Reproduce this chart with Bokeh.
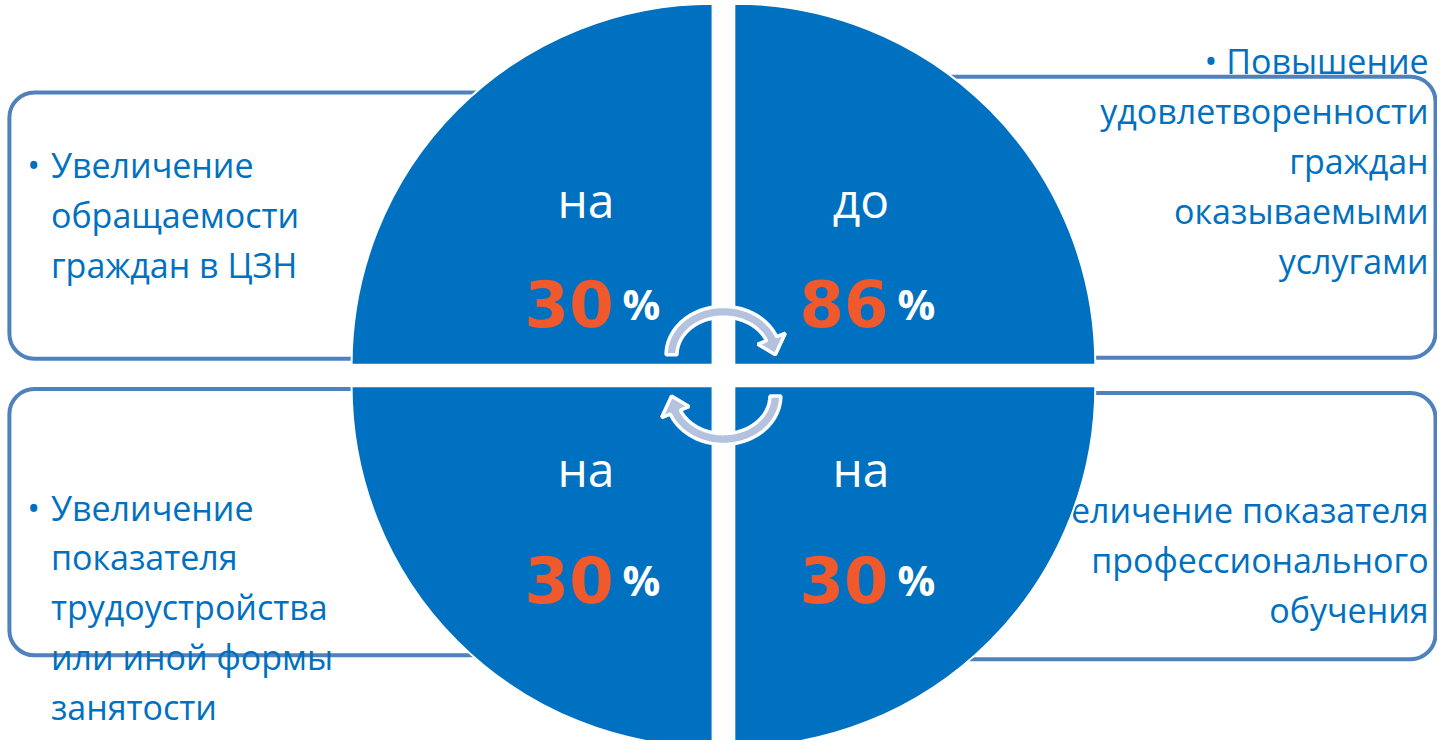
import numpy as np
from bokeh.plotting import figure
from bokeh.models import Range1d, BoxAnnotation
from bokeh.core.properties import value
from bokeh.embed import file_html
from bokeh.resources import INLINE

# ---------------- data ----------------
quadrant_names = ["top_left", "top_right", "bottom_left", "bottom_right"]
quadrant_prefix = ["на", "до", "на", "на"]
quadrant_value = ["30", "86", "30", "30"]
quadrant_unit = ["%", "%", "%", "%"]

desc_top_left = ["Увеличение", "обращаемости", "граждан в ЦЗН"]
desc_top_right = ["Повышение", "удовлетворенности", "граждан", "оказываемыми", "услугами"]
desc_bottom_left = ["Увеличение", "показателя", "трудоустройства", "или иной формы", "занятости"]
desc_bottom_right = ["Увеличение показателя", "профессионального", "обучения"]

# ---------------- styling / layout ----------------
W, H = 1453, 756
def Y(py):
    return H - py

BLUE = "#0070C0"
BOX_LINE = "#4F81BD"
ORANGE = "#F0592B"
ARROW_FILL = "#B4C2DE"
FONT = "Open Sans"
LINE_GAP = 51

p = figure(width=1437, height=740, x_range=Range1d(0, W), y_range=Range1d(0, H),
           output_backend="svg", toolbar_location=None, tools="", min_border=0)
p.axis.visible = False
p.grid.visible = False
p.outline_line_color = None
p.background_fill_color = "white"
p.border_fill_color = "white"

# rounded boxes (behind everything)
boxes = [
    (9, 600, 94, 366),      # top-left
    (870, 1451, 78, 365),   # top-right
    (9, 600, 397, 669),     # bottom-left
    (870, 1451, 401, 673),  # bottom-right
]
for l, r, t, b in boxes:
    p.add_layout(BoxAnnotation(left=l, right=r, top=Y(t), bottom=Y(b),
                               fill_color="white", fill_alpha=1.0,
                               line_color=BOX_LINE, line_width=4, line_alpha=1.0,
                               border_radius=25, level="underlay"))

# description texts
def left_block(lines, first_baseline):
    ys = [Y(first_baseline + i * LINE_GAP) for i in range(len(lines))]
    p.text(x=[51] * len(lines), y=ys, text=lines, text_font=value(FONT),
           text_font_size=value("34px"), text_color=BLUE, text_align="left",
           text_baseline="alphabetic")
    p.text(x=[27], y=[ys[0]], text=["•"], text_font=value(FONT),
           text_font_size=value("34px"), text_color=BLUE, text_align="left",
           text_baseline="alphabetic")

def right_block(lines, first_baseline):
    lines = ["• " + lines[0]] + lines[1:]
    ys = [Y(first_baseline + i * LINE_GAP) for i in range(len(lines))]
    p.text(x=[1444] * len(lines), y=ys, text=lines, text_font=value(FONT),
           text_font_size=value("34px"), text_color=BLUE, text_align="right",
           text_baseline="alphabetic")

left_block(desc_top_left, 168)
right_block(desc_top_right, 62)
left_block(desc_bottom_left, 518)
right_block(desc_bottom_right, 521)

# circle quadrants
q_cx = [720, 742, 720, 742]
q_cy = [Y(372), Y(372), Y(394), Y(394)]
q_start = [90, 0, 180, 270]
q_end = [180, 90, 270, 360]
p.wedge(x=q_cx, y=q_cy, radius=365, start_angle=q_start, end_angle=q_end,
        start_angle_units="deg", end_angle_units="deg",
        fill_color=BLUE, line_color="white", line_width=2)

# quadrant labels
lab_cx = [592, 870, 592, 870]
pre_base = [Y(203), Y(203), Y(478), Y(478)]
num_base = [Y(310), Y(310), Y(592), Y(592)]
p.text(x=lab_cx, y=pre_base, text=quadrant_prefix, text_font=value(FONT),
       text_font_size=value("48px"), text_color="white", text_align="center",
       text_baseline="alphabetic")
p.text(x=[c + 28 for c in lab_cx], y=num_base, text=quadrant_value,
       text_font=value("DejaVu Sans"), text_font_size=value("64px"),
       text_font_style="bold", text_color=ORANGE,
       text_align="right", text_baseline="alphabetic")
p.text(x=[c + 37 for c in lab_cx], y=num_base, text=quadrant_unit, text_font=value(FONT),
       text_font_size=value("42px"), text_font_style="bold", text_color="white",
       text_align="left", text_baseline="alphabetic")

# circular arrows in the centre
def arrow_shape(cx, cy, rx, ry, half, head_half, start_deg, body_end_deg, tip_deg):
    ph = np.radians(np.linspace(start_deg, body_end_deg, 60))
    ox = cx + (rx + half) * np.cos(ph)
    oy = cy - (ry + half) * np.sin(ph)
    ix = cx + (rx - half) * np.cos(ph[::-1])
    iy = cy - (ry - half) * np.sin(ph[::-1])
    b = np.radians(body_end_deg)
    t = np.radians(tip_deg)
    hx = [cx + (rx + head_half) * np.cos(b), cx + rx * np.cos(t), cx + (rx - head_half) * np.cos(b)]
    hy = [cy - (ry + head_half) * np.sin(b), cy - ry * np.sin(t), cy - (ry - head_half) * np.sin(b)]
    xs = np.concatenate([ox, hx, ix])
    ys = np.concatenate([oy, hy, iy])
    return xs, ys

ax, ay = arrow_shape(731, 362, 52.5, 44, 5.5, 15, 180, 22, 0)
p.patch(x=ax, y=H - ay, fill_color=ARROW_FILL, line_color="white", line_width=3.5)
bx, by = 2 * 731 - ax, 2 * 383 - ay
p.patch(x=bx, y=H - by, fill_color=ARROW_FILL, line_color="white", line_width=3.5)

open("out.html", "w").write(file_html(p, INLINE))
